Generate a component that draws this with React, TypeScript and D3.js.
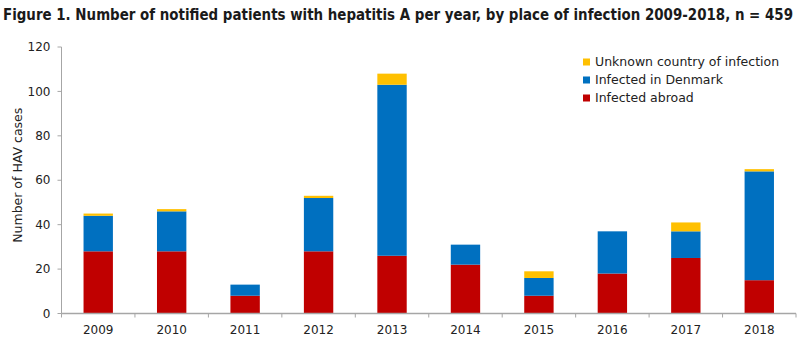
import React from "react";
import * as d3 from "d3";

const years = ["2009", "2010", "2011", "2012", "2013", "2014", "2015", "2016", "2017", "2018"];
const infectedAbroad = [28, 28, 8, 28, 26, 22, 8, 18, 25, 15];
const infectedDenmark = [16, 18, 5, 24, 77, 9, 8, 19, 12, 49];
const unknownCountry = [1, 1, 0, 1, 5, 0, 3, 0, 4, 1];
const yTicks = [0, 20, 40, 60, 80, 100, 120];

const seriesNames = ["Infected abroad", "Infected in Denmark", "Unknown country of infection"];
const seriesColors = ["#C00000", "#0070C0", "#FFC000"];
const titleText = "Figure 1. Number of notified patients with hepatitis A per year, by place of infection 2009-2018, n = 459";
const yLabel = "Number of HAV cases";

const W = 800;
const H = 341;
const left = 61.5;
const right = 796;
const top = 47;
const bottom = 313.5;
const font = "'DejaVu Sans', sans-serif";

export default function App() {
  const x = d3.scaleBand<string>().domain(years).range([left, right]).paddingInner(0.6).paddingOuter(0.3);
  const y = d3.scaleLinear().domain([0, 120]).range([bottom, top]);
  const step = x.step();

  const rows = years.map((yr, i) => ({
    year: yr,
    abroad: infectedAbroad[i],
    denmark: infectedDenmark[i],
    unknown: unknownCountry[i],
  }));
  const stack = d3.stack<any>().keys(["abroad", "denmark", "unknown"]);
  const stacked = stack(rows);

  const legendItems = [
    { name: seriesNames[2], color: seriesColors[2] },
    { name: seriesNames[1], color: seriesColors[1] },
    { name: seriesNames[0], color: seriesColors[0] },
  ];

  return (
    <svg width={W} height={H} style={{ position: "absolute", left: 0, top: 0, background: "#fff" }} fontFamily={font}>
      <text
        x={3}
        y={20}
        fontSize={15}
        fontWeight="bold"
        fill="#1a1a1a"
        fontFamily="'Liberation Sans Narrow', 'DejaVu Sans Condensed', sans-serif"
        textLength={790}
        lengthAdjust="spacingAndGlyphs"
      >
        {titleText}
      </text>
      {/* bars */}
      {stacked.map((s, si) => (
        <g key={si} fill={seriesColors[si]}>
          {s.map((d, i) =>
            d[1] - d[0] > 0 ? (
              <rect key={i} x={x(years[i])!} width={x.bandwidth()} y={y(d[1])} height={y(d[0]) - y(d[1])} />
            ) : null
          )}
        </g>
      ))}
      {/* y axis */}
      <line x1={left} x2={left} y1={top} y2={bottom} stroke="#a6a6a6" strokeWidth={1} />
      {yTicks.map((t) => (
        <g key={t}>
          <line x1={left - 4} x2={left} y1={y(t)} y2={y(t)} stroke="#a6a6a6" />
          <text x={left - 11} y={y(t)} dy="0.35em" textAnchor="end" fontSize={12} fill="#222">
            {t}
          </text>
        </g>
      ))}
      {/* x axis */}
      <line x1={left} x2={right} y1={bottom} y2={bottom} stroke="#a6a6a6" strokeWidth={1.5} />
      {years.map((yr, i) => (
        <line key={"t" + i} x1={left + step * i} x2={left + step * i} y1={bottom} y2={bottom + 4} stroke="#a6a6a6" />
      ))}
      <line x1={right} x2={right} y1={bottom} y2={bottom + 4} stroke="#a6a6a6" />
      {years.map((yr) => (
        <text key={yr} x={x(yr)! + x.bandwidth() / 2} y={334} textAnchor="middle" fontSize={12} fill="#222">
          {yr}
        </text>
      ))}
      <text transform={`translate(22,${(top + bottom) / 2 - 5}) rotate(-90)`} textAnchor="middle" fontSize={12.5} fill="#222">
        {yLabel}
      </text>
      {/* legend */}
      {legendItems.map((it, i) => (
        <g key={it.name} transform={`translate(583,${62 + i * 18})`}>
          <rect x={0} y={-3.5} width={7} height={7} fill={it.color} />
          <text x={12} y={0} dy="0.35em" fontSize={12.5} fill="#222">
            {it.name}
          </text>
        </g>
      ))}
    </svg>
  );
}
